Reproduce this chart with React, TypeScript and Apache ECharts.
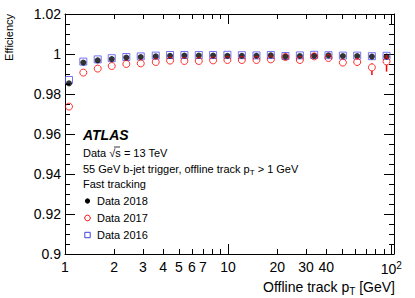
import React, { useEffect, useRef } from "react";
import * as echarts from "echarts";

// Offline track pT bin positions [GeV]
const ptValues = [1.058, 1.295, 1.587, 1.934, 2.377, 2.913, 3.601, 4.408, 5.395, 6.611, 8.091, 9.9, 12.14, 14.92, 18.28, 22.46, 27.54, 33.7, 41.24, 50.53, 61.85, 76.13, 93.6];

const eff2018 = [0.9853, 0.9957, 0.9968, 0.9975, 0.9982, 0.9985, 0.9988, 0.9991, 0.9992, 0.9992, 0.9992, 0.9991, 0.9991, 0.9991, 0.9993, 0.9987, 0.999, 0.9991, 0.9993, 0.999, 0.999, 0.9987, 0.9987];
const eff2017 = [0.9737, 0.9907, 0.9927, 0.994, 0.995, 0.9953, 0.996, 0.9967, 0.9965, 0.9965, 0.9968, 0.997, 0.997, 0.997, 0.9973, 0.9985, 0.997, 0.9988, 0.998, 0.9957, 0.996, 0.9933, 0.9963];
const eff2016 = [0.987, 0.9962, 0.9973, 0.9979, 0.9985, 0.9988, 0.9992, 0.9995, 0.9995, 0.9995, 0.9995, 0.9996, 0.9994, 0.9993, 0.9995, 0.999, 0.9993, 0.9996, 0.9994, 0.9992, 0.9992, 0.9989, 0.9991];

// 2017 error bars (index into ptValues, low, high)
const err2017Index = [20, 21, 22];
const err2017Low = [0.9945, 0.9895, 0.9912];
const err2017High = [0.9972, 0.9953, 0.9995];

const xLabelValues = [1, 2, 3, 4, 5, 6, 7, 10, 20, 30, 40, 100];
const xMajorTicks = [1, 10, 100];
const xMinorTicks = [2, 3, 4, 5, 6, 7, 8, 9, 20, 30, 40, 50, 60, 70, 80, 90];

const FONT = "'Liberation Sans', Arial, Helvetica, sans-serif";

export default function App() {
  const ref = useRef<HTMLDivElement>(null);

  useEffect(() => {
    if (!ref.current) return;
    const chart = echarts.init(ref.current, null, { renderer: "svg" });

    const baseX = (position: string, ticks: number[], len: number, showLabel: boolean, showLine: boolean) => ({
      type: "log",
      logBase: 10,
      min: 1,
      max: 104,
      position,
      gridIndex: 0,
      axisLine: { show: showLine, lineStyle: { color: "#000", width: 1 } },
      axisTick: { show: true, inside: true, length: len, customValues: ticks, lineStyle: { color: "#000", width: 1 } },
      axisLabel: showLabel
        ? {
            show: true,
            customValues: xLabelValues,
            fontSize: 14,
            fontFamily: FONT,
            color: "#000",
            margin: 6,
            formatter: (v: number) => {
              const r = Math.round(v);
              return r === 100 ? "{n|10}{s|2}" : "{n|" + r + "}";
            },
            rich: {
              n: { fontSize: 14, fontFamily: FONT, color: "#000" },
              s: { fontSize: 10, fontFamily: FONT, color: "#000", padding: [0, 0, 8, 0] },
            },
          }
        : { show: false },
      splitLine: { show: false },
      minorTick: { show: false },
    });

    const baseY = (position: string, showLabel: boolean) => ({
      type: "value",
      min: 0.9,
      max: 1.02,
      interval: 0.02,
      position,
      axisLine: { show: true, lineStyle: { color: "#000", width: 1 } },
      axisTick: { show: true, inside: true, length: 10, lineStyle: { color: "#000", width: 1 } },
      minorTick: { show: true, splitNumber: 4, length: 5, lineStyle: { color: "#000", width: 1 } },
      axisLabel: showLabel
        ? {
            show: true,
            fontSize: 14,
            fontFamily: FONT,
            color: "#000",
            margin: 4,
            formatter: (v: number) => String(parseFloat(v.toFixed(2))),
          }
        : { show: false },
      splitLine: { show: false },
    });

    const errData = err2017Index.map((i, k) => [ptValues[i], eff2017[i], err2017Low[k], err2017High[k]]);

    chart.setOption({
      animation: false,
      grid: { left: 65, right: 21, top: 14, bottom: 44 },
      xAxis: [
        baseX("bottom", xMajorTicks, 10, true, true),
        baseX("bottom", xMinorTicks, 5, false, false),
        baseX("top", xMajorTicks, 10, false, true),
        baseX("top", xMinorTicks, 5, false, false),
      ],
      yAxis: [baseY("left", true), baseY("right", false)],
      series: [
        {
          name: "Data 2016",
          type: "scatter",
          xAxisIndex: 0,
          yAxisIndex: 0,
          symbol: "rect",
          symbolSize: 7,
          itemStyle: { color: "rgba(0,0,0,0)", borderColor: "#5050f0", borderWidth: 1 },
          data: ptValues.map((x, i) => [x, eff2016[i]]),
          z: 2,
        },
        {
          name: "Data 2018",
          type: "scatter",
          xAxisIndex: 0,
          yAxisIndex: 0,
          symbol: "circle",
          symbolSize: 6,
          itemStyle: { color: "#000" },
          data: ptValues.map((x, i) => [x, eff2018[i]]),
          z: 3,
        },
        {
          name: "Data 2017",
          type: "scatter",
          xAxisIndex: 0,
          yAxisIndex: 0,
          symbol: "circle",
          symbolSize: 7,
          itemStyle: { color: "rgba(0,0,0,0)", borderColor: "#ff0000", borderWidth: 1 },
          data: ptValues.map((x, i) => [x, eff2017[i]]),
          z: 4,
        },
        {
          name: "Data 2017 errors",
          type: "custom",
          xAxisIndex: 0,
          yAxisIndex: 0,
          z: 4,
          data: errData,
          renderItem: (_params: any, api: any) => {
            const x = api.value(0);
            const c = api.coord([x, api.value(1)]);
            const lo = api.coord([x, api.value(2)]);
            const hi = api.coord([x, api.value(3)]);
            const gap = 3.5;
            return {
              type: "group",
              children: [
                {
                  type: "line",
                  shape: { x1: c[0], y1: c[1] + gap, x2: lo[0], y2: lo[1] },
                  style: { stroke: "#ff0000", lineWidth: 1.5 },
                },
                {
                  type: "line",
                  shape: { x1: c[0], y1: c[1] - gap, x2: hi[0], y2: hi[1] },
                  style: { stroke: "#ff0000", lineWidth: 1.5 },
                },
              ],
            };
          },
        },
      ],
      graphic: [
        {
          type: "text",
          x: 9,
          y: 14,
          rotation: Math.PI / 2,
          style: { text: "Efficiency", font: "11px " + FONT, fill: "#000", align: "right", verticalAlign: "middle" },
        },
        {
          type: "text",
          x: 395,
          y: 287,
          style: {
            text: "Offline track p{sub|T} [GeV]",
            font: "14px " + FONT,
            fill: "#000",
            align: "right",
            verticalAlign: "middle",
            rich: {
              sub: { fontSize: 10, fontFamily: FONT, fill: "#000", padding: [8, 0, 0, 0] },
            },
          },
        },
        {
          type: "text",
          x: 83,
          y: 135,
          style: { text: "ATLAS", font: "italic bold 14px " + FONT, fill: "#000", verticalAlign: "middle" },
        },
        {
          type: "text",
          x: 83,
          y: 153,
          style: { text: "Data \u221As = 13 TeV", font: "11px " + FONT, fill: "#000", verticalAlign: "middle" },
        },
        {
          type: "line",
          shape: { x1: 114, y1: 147, x2: 120, y2: 147 },
          style: { stroke: "#000", lineWidth: 0.8 },
        },
        {
          type: "text",
          x: 83,
          y: 169,
          style: {
            text: "55 GeV b-jet trigger, offline track p{sub|T} > 1 GeV",
            font: "11px " + FONT,
            fill: "#000",
            verticalAlign: "middle",
            rich: {
              sub: { fontSize: 8, fontFamily: FONT, fill: "#000", padding: [6, 0, 0, 0] },
            },
          },
        },
        {
          type: "text",
          x: 83,
          y: 184,
          style: { text: "Fast tracking", font: "11px " + FONT, fill: "#000", verticalAlign: "middle" },
        },
        { type: "circle", shape: { cx: 87.5, cy: 201, r: 2.6 }, style: { fill: "#000" } },
        { type: "circle", shape: { cx: 87.5, cy: 218, r: 2.8 }, style: { fill: "none", stroke: "#ff0000", lineWidth: 1 } },
        { type: "rect", shape: { x: 84.8, y: 232.3, width: 5.4, height: 5.4 }, style: { fill: "none", stroke: "#4040e0", lineWidth: 1 } },
        { type: "text", x: 97, y: 201, style: { text: "Data 2018", font: "11px " + FONT, fill: "#000", verticalAlign: "middle" } },
        { type: "text", x: 97, y: 218, style: { text: "Data 2017", font: "11px " + FONT, fill: "#000", verticalAlign: "middle" } },
        { type: "text", x: 97, y: 235, style: { text: "Data 2016", font: "11px " + FONT, fill: "#000", verticalAlign: "middle" } },
      ],
    });

    return () => chart.dispose();
  }, []);

  return <div ref={ref} style={{ position: "fixed", left: 0, top: 0, width: 415, height: 298, background: "#fff" }} />;
}
